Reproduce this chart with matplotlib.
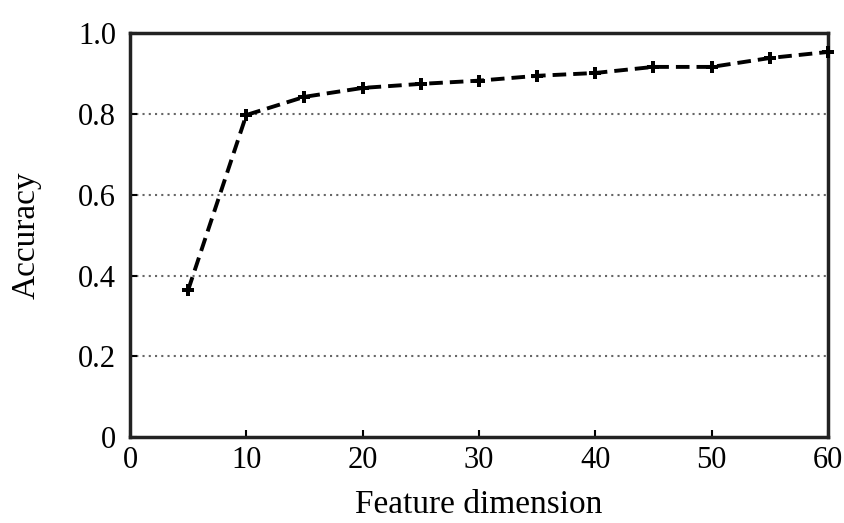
import matplotlib
matplotlib.use("Agg")
import matplotlib.pyplot as plt

dims = [5, 10, 15, 20, 25, 30, 35, 40, 45, 50, 55, 60]
accuracy = [0.364, 0.797, 0.842, 0.864, 0.874, 0.882, 0.894, 0.901, 0.916, 0.916, 0.938, 0.953]

xticks = [0, 10, 20, 30, 40, 50, 60]
yticks = [0, 0.2, 0.4, 0.6, 0.8, 1.0]
ytick_labels = ["0", "0.2", "0.4", "0.6", "0.8", "1.0"]

plt.rcParams['font.family'] = ['Liberation Serif', 'DejaVu Serif']

fig = plt.figure(figsize=(8.44, 5.23), dpi=100)
ax = fig.add_axes([0.154, 0.164, 0.827, 0.773])

for yv in yticks[1:-1]:
    ax.axhline(yv, color='#666666', linestyle=(0, (1, 2)), linewidth=1.5, zorder=1)

ax.plot(dims, accuracy, color='black', linestyle=(0, (3.5, 1.8)), linewidth=2.8,
        marker='P', markersize=9, markeredgewidth=0, zorder=3, clip_on=False)

ax.set_xlim(0, 60)
ax.set_ylim(0, 1.0)
ax.set_xticks(xticks)
ax.set_yticks(yticks)
ax.set_yticklabels(ytick_labels)
ax.tick_params(direction='in', length=5, width=1.5, labelsize=22, colors='black')
ax.tick_params(axis='x', pad=6)
ax.tick_params(axis='y', pad=10)
for s in ax.spines.values():
    s.set_linewidth(2.5)
    s.set_color('#222222')

ax.set_xlabel("Feature dimension", fontsize=24, labelpad=11)
ax.set_ylabel("Accuracy", fontsize=24, labelpad=26)

fig.savefig("out.png", dpi=100)
